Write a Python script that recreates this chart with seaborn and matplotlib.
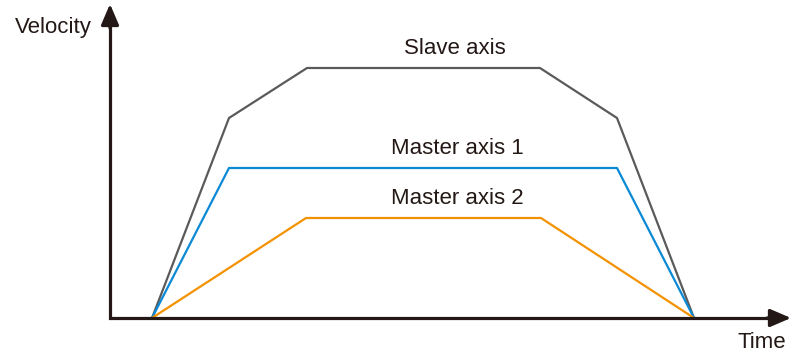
import matplotlib
matplotlib.use("Agg")
import matplotlib.pyplot as plt
import seaborn as sns
import pandas as pd

# data (time / velocity in arbitrary units)
slave_t = [0, 77, 155, 388, 465, 542]
slave_v = [0, 200, 250, 250, 200, 0]
master1_t = [0, 77, 465, 542]
master1_v = [0, 150, 150, 0]
master2_t = [0, 154, 389, 542]
master2_v = [0, 100, 100, 0]

names = ["Slave axis", "Master axis 1", "Master axis 2"]
colors = ["#5a5a5a", "#0a8ad6", "#f39200"]

rows = []
for name, ts, vs in zip(names, [slave_t, master1_t, master2_t], [slave_v, master1_v, master2_v]):
    for t, v in zip(ts, vs):
        rows.append({"Time": t, "Velocity": v, "axis": name})
df = pd.DataFrame(rows)

sns.set_style("white")
plt.rcParams["font.family"] = ["Liberation Sans", "DejaVu Sans"]

fig = plt.figure(figsize=(7.91, 3.55), dpi=100)
ax = fig.add_axes([0, 0, 1, 1])

sns.lineplot(data=df, x="Time", y="Velocity", hue="axis", palette=colors,
             hue_order=names, sort=False, estimator=None, linewidth=1.6,
             legend=False, ax=ax)

ax.set_xlim(-152, 639)
ax.set_ylim(-37, 318)
ax.axis("off")

# coordinate axes: L-shaped line with square corner, then arrow heads
axis_col = "#231815"
ax.plot([-42, -42, 625], [300, 0, 0], color=axis_col, lw=2.3,
        solid_joinstyle="miter", solid_capstyle="butt")
arrow = dict(arrowstyle="-|>,head_length=0.7,head_width=0.3", color=axis_col,
             lw=2.3, mutation_scale=18, shrinkA=0, shrinkB=0)
ax.annotate("", xy=(-42, 314), xytext=(-42, 290), arrowprops=arrow)
ax.annotate("", xy=(639, 0), xytext=(615, 0), arrowprops=arrow)

txt = dict(fontsize=16, color="#231815", ha="center", va="center")
ax.text(303, 270, "Slave axis", **txt)
ax.text(305, 170, "Master axis 1", **txt)
ax.text(305, 120, "Master axis 2", **txt)
ax.text(-99, 291, "Velocity", **txt)
ax.text(610, -25, "Time", **txt)

fig.savefig("out.png", dpi=100)
